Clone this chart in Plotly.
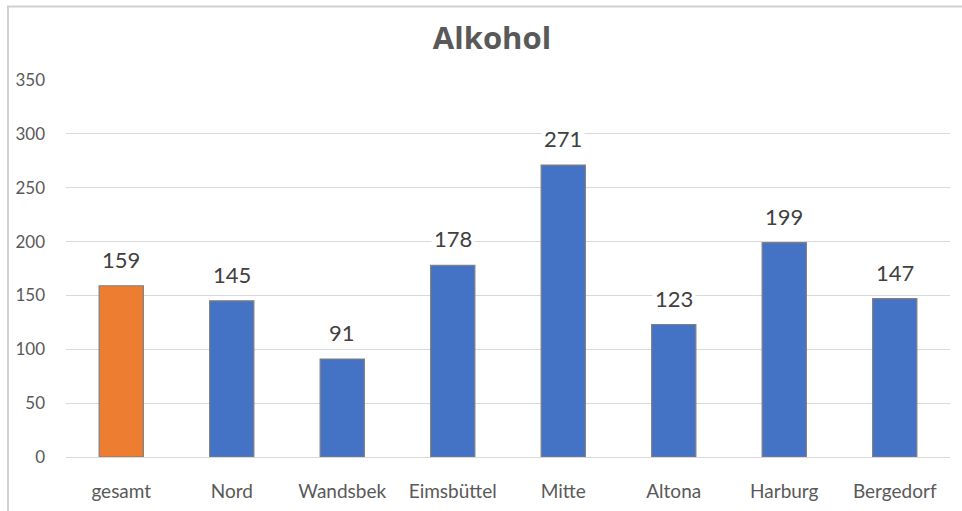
import plotly.graph_objects as go

# Alkohol cases per district
categories = ["gesamt", "Nord", "Wandsbek", "Eimsbüttel", "Mitte", "Altona", "Harburg", "Bergedorf"]
values = [159, 145, 91, 178, 271, 123, 199, 147]
bar_colors = ["#ED7D31"] + ["#4472C4"] * 7
y_ticks = [0, 50, 100, 150, 200, 250, 300, 350]

FONT = "Lato, Open Sans, sans-serif"
TITLE_FONT = "Open Sans, Lato, sans-serif"
TEXT = "#595959"
GRID = "#D9D9D9"

W, H = 962, 511
L, R, T, B = 66, 12, 80, 54

fig = go.Figure(
    go.Bar(
        x=categories,
        y=values,
        marker=dict(color=bar_colors, line=dict(color="#7F7F7F", width=1.2)),
        width=0.4,
        hoverinfo="x+y",
    )
)

# value labels with white boxes that sit over the gridlines
for c, v in zip(categories, values):
    fig.add_annotation(
        x=c, y=v, text=str(v), showarrow=False,
        xref="x", yref="y", yanchor="bottom", yshift=10,
        bgcolor="white", borderpad=2,
        font=dict(family=FONT, size=22, color="#404040"),
    )

pw = W - L - R
ph = H - T - B

def px_x(p):
    return (p - L) / pw

def px_y(p):
    return (H - B - p) / ph

# chart frame (left and top edges)
fig.add_shape(type="line", xref="paper", yref="paper",
              x0=px_x(8), x1=px_x(8), y0=px_y(6), y1=px_y(520),
              line=dict(color="#D0D0D0", width=2))
fig.add_shape(type="line", xref="paper", yref="paper",
              x0=px_x(7), x1=px_x(980), y0=px_y(6.5), y1=px_y(6.5),
              line=dict(color="#D0D0D0", width=2))

fig.update_layout(
    width=W, height=H,
    margin=dict(l=L, r=R, t=T, b=B),
    paper_bgcolor="white",
    plot_bgcolor="white",
    showlegend=False,
    title=dict(
        text="<b>Alkohol</b>",
        x=492 / W, xanchor="center",
        y=1 - 38 / H, yanchor="middle",
        font=dict(family=TITLE_FONT, size=31, color=TEXT),
    ),
    xaxis=dict(
        showgrid=False,
        showline=True, linecolor=GRID, linewidth=1,
        ticks="",
        tickfont=dict(family=FONT, size=19, color=TEXT),
        ticklabelstandoff=17,
        automargin=False,
        fixedrange=True,
    ),
    yaxis=dict(
        range=[0, 350],
        tickvals=y_ticks,
        showgrid=True, gridcolor=GRID, gridwidth=1,
        zeroline=False,
        showline=False,
        ticks="",
        tickfont=dict(family=FONT, size=17, color=TEXT),
        ticklabelstandoff=20,
        automargin=False,
        fixedrange=True,
    ),
)

fig.write_html("out.html")
